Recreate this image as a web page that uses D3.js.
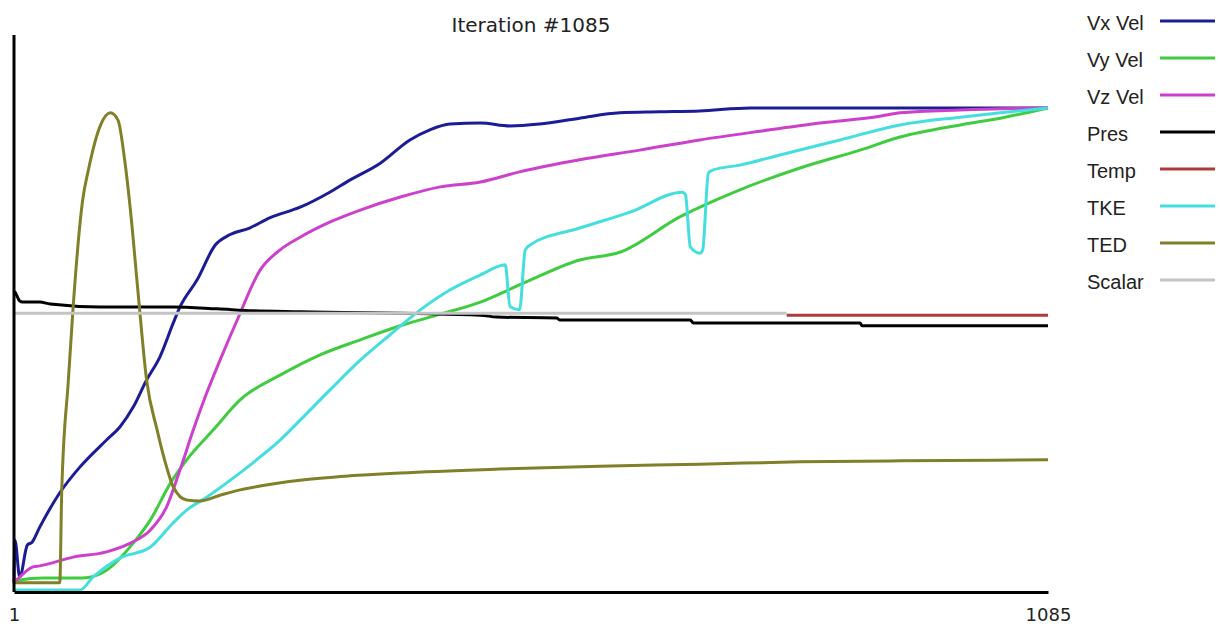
<!DOCTYPE html>
<html>
<head>
<meta charset="utf-8">
<script src="https://cdn.jsdelivr.net/npm/d3@7"></script>
<style>
  body { margin: 0; background: #fff; }
  svg { display: block; }
</style>
</head>
<body>
<div id="chart"></div>
<script>
// normalised residuals, [iteration, value]; 1.0 = converged level
const vxVel = [[1,0.019],[2,0.107],[7,0.031],[15,0.097],[20,0.103],[28,0.134],[49,0.205],[70,0.258],[98,0.314],[112,0.341],[126,0.382],[140,0.438],[154,0.486],[168,0.556],[175,0.589],[193,0.645],[212,0.717],[227,0.738],[248,0.752],[269,0.773],[301,0.795],[332,0.826],[353,0.851],[385,0.886],[416,0.934],[437,0.955],[458,0.967],[490,0.969],[521,0.963],[552,0.967],[594,0.979],[636,0.990],[678,0.992],[720,0.994],[773,1.0],[1085,1.0]];
const vyVel = [[1,0.019],[7,0.025],[31,0.029],[73,0.029],[98,0.045],[126,0.101],[144,0.149],[165,0.225],[182,0.273],[210,0.335],[238,0.397],[280,0.448],[322,0.490],[364,0.521],[406,0.550],[448,0.574],[490,0.599],[535,0.638],[594,0.686],[636,0.702],[699,0.775],[762,0.831],[825,0.876],[888,0.913],[930,0.940],[993,0.965],[1035,0.979],[1085,1.0]];
const vzVel = [[1,0.019],[7,0.031],[21,0.052],[28,0.054],[63,0.072],[98,0.083],[123,0.101],[144,0.128],[161,0.176],[175,0.252],[189,0.335],[203,0.411],[217,0.479],[235,0.562],[259,0.665],[280,0.707],[301,0.733],[332,0.764],[364,0.789],[406,0.816],[448,0.837],[490,0.847],[531,0.868],[594,0.893],[657,0.913],[720,0.934],[783,0.952],[846,0.969],[909,0.983],[930,0.990],[993,0.996],[1085,1.0]];
const pres = [[1,0.62],[2,0.620],[4,0.612],[7,0.601],[10,0.599],[28,0.599],[39,0.595],[91,0.589],[168,0.589],[214,0.585],[252,0.581],[301,0.579],[490,0.572],[507,0.568],[570,0.566],[573,0.562],[710,0.562],[713,0.556],[888,0.556],[890,0.550],[1085,0.550]];
const temp = [[811,0.572],[1085,0.572]];
const tke = [[1,0.004],[70,0.004],[84,0.031],[112,0.070],[144,0.093],[168,0.143],[182,0.169],[203,0.196],[238,0.246],[259,0.279],[280,0.314],[301,0.355],[332,0.417],[364,0.479],[395,0.531],[427,0.583],[458,0.624],[490,0.655],[516,0.676],[521,0.590],[531,0.583],[537,0.707],[542,0.717],[594,0.752],[647,0.785],[702,0.826],[705,0.820],[710,0.713],[720,0.700],[723,0.707],[729,0.866],[734,0.872],[762,0.882],[804,0.903],[867,0.934],[930,0.965],[993,0.981],[1035,0.990],[1085,1.0]];
const ted = [[1,0.019],[49,0.019],[51,0.205],[58,0.438],[63,0.589],[73,0.810],[79,0.872],[91,0.961],[102,0.990],[110,0.975],[117,0.893],[123,0.790],[131,0.620],[140,0.438],[151,0.335],[161,0.258],[168,0.217],[182,0.190],[196,0.188],[217,0.200],[238,0.211],[259,0.219],[301,0.231],[353,0.240],[406,0.246],[510,0.254],[615,0.260],[720,0.264],[825,0.269],[930,0.271],[1085,0.273]];
const scalar = [[1,0.576],[811,0.576]];

const seriesNames = ["Vx Vel", "Vy Vel", "Vz Vel", "Pres", "Temp", "TKE", "TED", "Scalar"];
const seriesData = [vxVel, vyVel, vzVel, pres, temp, tke, ted, scalar];
const seriesColors = ["#1c1c96", "#40cc40", "#cc40cc", "#000000", "#b03a3a", "#44dede", "#808028", "#c4c4c4"];

const iterFirst = 1, iterLast = 1085;
const title = "Iteration #" + iterLast;

const width = 1220, height = 626;

const svg = d3.select("#chart").append("svg")
  .attr("width", width)
  .attr("height", height);

const x = d3.scaleLinear().domain([iterFirst, iterLast]).range([14, 1048]);
const y = d3.scaleLinear().domain([0, 1]).range([592, 108]);
const yTop = 1.151; // frame line runs a bit above the converged level

// series
const line = d3.line()
  .curve(d3.curveMonotoneX)
  .x(d => x(d[0]))
  .y(d => y(d[1]));

svg.append("g")
  .selectAll("path")
  .data(seriesData)
  .enter()
  .append("path")
  .attr("fill", "none")
  .attr("stroke", (d, i) => seriesColors[i])
  .attr("stroke-width", 3)
  .attr("stroke-linejoin", "round")
  .attr("d", line);

// frame: left line + bottom axis with first/last iteration
svg.append("line")
  .attr("x1", x(iterFirst)).attr("x2", x(iterFirst))
  .attr("y1", y(0)).attr("y2", y(yTop))
  .attr("stroke", "#000")
  .attr("stroke-width", 3);

const xAxis = svg.append("g")
  .attr("transform", `translate(0,${y(0)})`)
  .call(d3.axisBottom(x)
    .tickValues([iterFirst, iterLast])
    .tickFormat(d3.format("d"))
    .tickSize(0)
    .tickPadding(16));

xAxis.select(".domain")
  .attr("stroke", "#000")
  .attr("stroke-width", 3);

xAxis.selectAll("text")
  .attr("fill", "#222")
  .style("font-family", "'DejaVu Sans', sans-serif")
  .style("font-size", "18px");

// title
svg.append("text")
  .attr("x", 531)
  .attr("y", 32)
  .attr("text-anchor", "middle")
  .attr("fill", "#222")
  .style("font-family", "'DejaVu Sans', sans-serif")
  .style("font-size", "20px")
  .text(title);

// legend
const leg = svg.append("g")
  .attr("transform", "translate(1087,21)");

const legItem = leg.selectAll(".leg")
  .data(seriesNames)
  .enter()
  .append("g")
  .attr("class", "leg")
  .attr("transform", (d, i) => `translate(0,${i * 37})`);

legItem.append("line")
  .attr("x1", 73).attr("x2", 128)
  .attr("y1", 0).attr("y2", 0)
  .attr("stroke", (d, i) => seriesColors[i])
  .attr("stroke-width", 3);

legItem.append("text")
  .attr("x", 0)
  .attr("y", 9)
  .attr("fill", "#222")
  .style("font-family", "'Liberation Sans', Arial, sans-serif")
  .style("font-size", "20px")
  .text(d => d);
</script>
</body>
</html>
